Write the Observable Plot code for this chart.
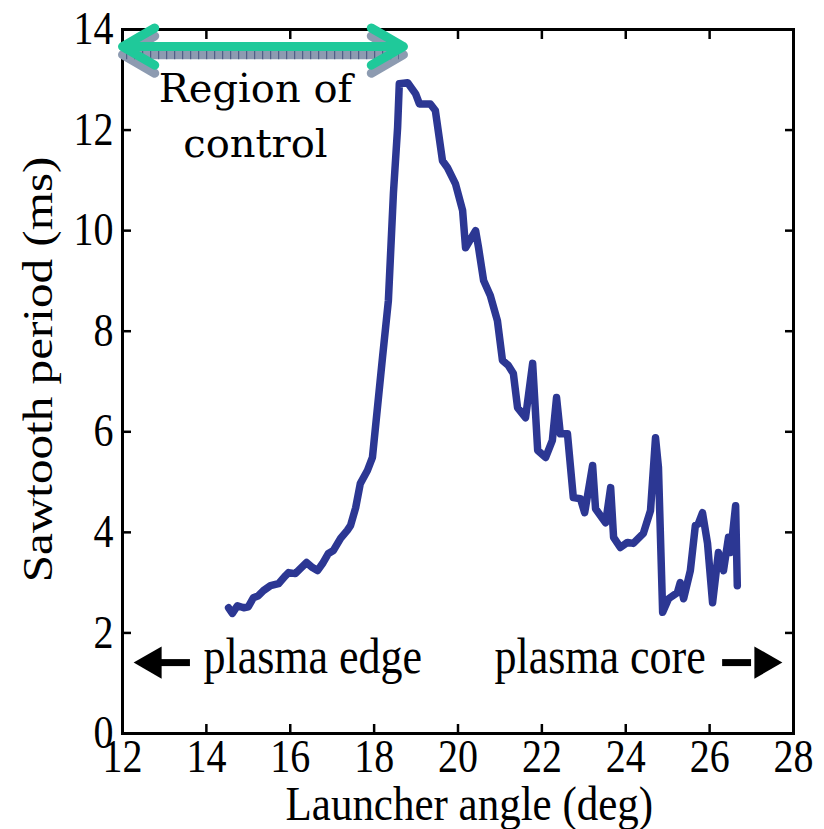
<!DOCTYPE html>
<html><head><meta charset="utf-8">
<script src="https://cdn.jsdelivr.net/npm/d3@7"></script>
<script src="https://cdn.jsdelivr.net/npm/@observablehq/plot@0.6"></script>
<style>body{margin:0;background:#fff}</style>
</head><body><div id="chart"></div>
<script>
// Launcher angle (deg)
const angle = [14.53,14.62,14.74,14.89,15.00,15.12,15.24,15.36,15.53,15.72,15.89,15.96,16.12,16.24,16.39,16.53,16.65,16.77,16.91,17.03,17.20,17.36,17.44,17.56,17.67,17.84,17.96,18.20,18.34,18.46,18.56,18.60,18.80,18.99,19.08,19.34,19.46,19.63,19.75,19.94,20.11,20.18,20.42,20.49,20.61,20.77,20.94,21.06,21.20,21.32,21.42,21.61,21.78,21.90,22.09,22.25,22.35,22.44,22.61,22.75,22.92,23.02,23.21,23.28,23.52,23.64,23.71,23.87,24.04,24.18,24.42,24.59,24.71,24.78,24.88,25.02,25.23,25.30,25.38,25.54,25.66,25.73,25.83,25.95,26.07,26.21,26.33,26.45,26.50,26.62,26.66];
// Sawtooth period (ms)
const period = [2.50,2.39,2.54,2.50,2.52,2.70,2.74,2.84,2.94,2.98,3.14,3.20,3.18,3.28,3.40,3.30,3.24,3.38,3.58,3.64,3.88,4.04,4.14,4.49,4.97,5.23,5.49,7.48,8.61,10.74,12.05,12.92,12.94,12.72,12.52,12.52,12.39,11.39,11.25,10.93,10.40,9.66,10.00,9.66,9.01,8.71,8.21,7.42,7.32,7.16,6.48,6.28,7.36,5.63,5.49,5.83,6.68,5.96,5.96,4.69,4.67,4.39,5.33,4.47,4.19,4.89,3.90,3.70,3.80,3.78,3.98,4.43,5.88,5.29,2.41,2.68,2.80,3.00,2.68,3.24,4.14,4.17,4.39,3.78,2.60,3.60,3.24,3.90,3.60,4.53,2.94];
const xTicks = [12,14,16,18,20,22,24,26,28];
const yTicks = [0,2,4,6,8,10,12,14];
const xLabel = "Launcher angle (deg)";
const yLabel = "Sawtooth period (ms)";
const regionText = "Region of\ncontrol";
const regionSpan = [12, 18.7];
const edgeText = "plasma edge";
const coreText = "plasma core";

const data = angle.map((a, i) => ({a, p: period[i]}));
const serif = "'Liberation Serif', 'Times New Roman', serif";
const mid = (regionSpan[0] + regionSpan[1]) / 2;
const greenY = 13.66, shadowY = 13.50;
const fmt = d3.format("d");

const plot = Plot.plot({
  width: 824, height: 829,
  marginLeft: 122, marginRight: 31, marginTop: 29, marginBottom: 96,
  style: {fontFamily: serif, fontSize: "40px", background: "white", overflow: "visible", color: "black"},
  x: {domain: [12, 28], label: null},
  y: {domain: [0, 14], label: null},
  marks: [
    // ticks (inward, all four sides)
    Plot.axisX(xTicks, {anchor: "bottom", tickSize: -9, strokeWidth: 2.5, tickFormat: () => "", label: null}),
    Plot.axisX(xTicks, {anchor: "top", tickSize: -9, strokeWidth: 2.5, tickFormat: () => "", label: null}),
    Plot.axisY(yTicks, {anchor: "left", tickSize: -9, strokeWidth: 2.5, tickFormat: () => "", label: null}),
    Plot.axisY(yTicks, {anchor: "right", tickSize: -9, strokeWidth: 2.5, tickFormat: () => "", label: null}),
    // tick labels
    Plot.axisX(xTicks, {anchor: "bottom", tickSize: 0, tickPadding: 6, fontSize: 40, tickFormat: fmt, label: null}),
    Plot.axisY(yTicks, {anchor: "left", tickSize: 0, tickPadding: 9, fontSize: 40, tickFormat: fmt, label: null}),
    Plot.frame({stroke: "black", strokeWidth: 3}),
    // data line
    Plot.line(data, {x: "a", y: "p", stroke: "#2c3793", strokeWidth: 7.5, strokeLinejoin: "round", strokeLinecap: "round"}),
    // region of control arrow: shadow
    Plot.arrow([[mid, regionSpan[0]], [mid, regionSpan[1]]], {x1: d => d[0], x2: d => d[1], y1: shadowY, y2: shadowY, stroke: "#8d9bb1", strokeWidth: 9, headLength: 6.2, headAngle: 60}),
    Plot.ruleY([shadowY], {x1: regionSpan[0] + 0.1, x2: regionSpan[1] - 0.1, stroke: "#2f3f6e", strokeWidth: 9, strokeDasharray: "1 7", strokeOpacity: 0.8}),
    // green arrow
    Plot.arrow([[mid, regionSpan[0]], [mid, regionSpan[1]]], {x1: d => d[0], x2: d => d[1], y1: greenY, y2: greenY, stroke: "#1fc99a", strokeWidth: 9, headLength: 6.2, headAngle: 60}),
    Plot.text([regionText], {x: 15.17, y: 12.37, fontFamily: "'DejaVu Serif', serif", fontSize: 40, lineHeight: 1.375, fill: "black", className: "region"}),
    // plasma edge / core annotations
    Plot.ruleY([1.41], {x1: 12.9, x2: 13.62, stroke: "black", strokeWidth: 7}),
    Plot.dot([{x: 12.71, y: 1.41}], {x: "x", y: "y", symbol: "triangle", rotate: -90, r: 12, fill: "black", stroke: "none"}),
    Plot.text([edgeText], {x: 13.93, y: 1.52, textAnchor: "start", fontSize: 44, fill: "black"}),
    Plot.ruleY([1.41], {x1: 26.31, x2: 27.0, stroke: "black", strokeWidth: 7}),
    Plot.dot([{x: 27.29, y: 1.41}], {x: "x", y: "y", symbol: "triangle", rotate: 90, r: 12, fill: "black", stroke: "none"}),
    Plot.text([coreText], {x: 20.87, y: 1.52, textAnchor: "start", fontSize: 44, fill: "black"}),
    // axis titles
    Plot.text([xLabel], {x: 20.27, y: -1.40, fontSize: 43, fill: "black"}),
    Plot.text([yLabel], {x: 10.00, y: 7.24, rotate: -90, fontSize: 42, fill: "black", className: "ylab"})
  ]
});

// Mimic the vertically stretched serif lettering of the original figure
plot.querySelectorAll("text").forEach(t => {
  if (t.closest("g.region")) return;
  const s = t.closest("g.ylab") ? "scale(1.17,1)" : "scale(1,1.14)";
  let tr = t.getAttribute("transform");
  if (!tr) {
    const x = +t.getAttribute("x") || 0, y = +t.getAttribute("y") || 0;
    t.removeAttribute("x"); t.removeAttribute("y");
    tr = `translate(${x},${y})`;
  }
  t.setAttribute("transform", tr + " " + s);
});

document.getElementById("chart").appendChild(plot);
</script>
</body></html>
